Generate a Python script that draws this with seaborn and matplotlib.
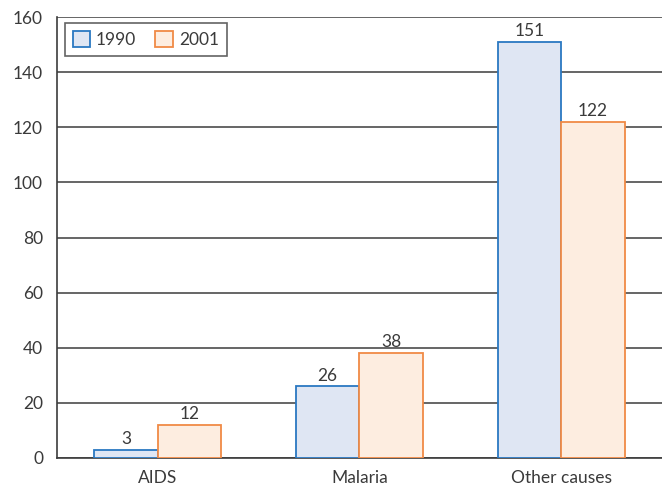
import matplotlib
matplotlib.use("Agg")
import matplotlib.pyplot as plt
import seaborn as sns
import pandas as pd
from matplotlib.patches import Patch

causes = ["AIDS", "Malaria", "Other causes"]
years = ["1990", "2001"]
values_1990 = [3, 26, 151]
values_2001 = [12, 38, 122]
y_ticks = [0, 20, 40, 60, 80, 100, 120, 140, 160]

df = pd.DataFrame({
    "cause": causes * 2,
    "year": [years[0]] * 3 + [years[1]] * 3,
    "value": values_1990 + values_2001,
})

sns.set_theme(style="white")
plt.rcParams["font.family"] = ["Lato", "DejaVu Sans"]
text_color = "#3a3a3a"
line_color = "#3c3c3c"
fs = 12.5

fills = {"1990": "#dfe6f3", "2001": "#fdede0"}
edges = {"1990": "#2a78c2", "2001": "#f08a45"}

fig = plt.figure(figsize=(6.62, 4.88), dpi=100)
ax = fig.add_axes([0.086, 0.0615, 0.914, 0.9035])

sns.barplot(data=df, x="cause", y="value", hue="year", order=causes,
            hue_order=years, palette=fills, saturation=1, width=0.63, ax=ax,
            legend=False, zorder=3)

for container, yr in zip(ax.containers, years):
    for bar in container:
        bar.set_edgecolor(edges[yr])
        bar.set_linewidth(1.3)
    ax.bar_label(container, labels=[str(int(b.get_height())) for b in container],
                 padding=2, fontsize=fs, color=text_color)

ax.set_xlim(-0.5, 2.5)
ax.set_ylim(0, 160)
ax.set_yticks(y_ticks)
ax.set_yticklabels([str(t) for t in y_ticks], fontsize=fs, color=text_color)
ax.set_xticks(range(len(causes)))
ax.set_xticklabels(causes, fontsize=fs, color=text_color)
ax.set_xticks([-0.5, 0.5, 1.5], minor=True)
ax.tick_params(axis="x", which="major", length=0, pad=9)
ax.tick_params(axis="x", which="minor", length=7, width=1.2, color=line_color, direction="out")
ax.tick_params(axis="y", length=7, width=1.2, color=line_color, direction="out", pad=3)
ax.set_xlabel("")
ax.set_ylabel("")

ax.yaxis.grid(True, color=line_color, linewidth=1.1, zorder=0)
ax.set_axisbelow(True)
for side in ["top", "right"]:
    ax.spines[side].set_visible(False)
ax.spines["left"].set_color(line_color)
ax.spines["left"].set_linewidth(1.2)
ax.spines["bottom"].set_color(line_color)
ax.spines["bottom"].set_linewidth(1.2)

handles = [Patch(facecolor=fills[y], edgecolor=edges[y], linewidth=1.3) for y in years]
leg = ax.legend(handles, years, loc="upper left", ncol=2, fontsize=fs,
                frameon=True, fancybox=False, handlelength=1.0, handleheight=1.0,
                handletextpad=0.35, columnspacing=1.1, borderpad=0.45,
                borderaxespad=0, bbox_to_anchor=(0.013, 0.986))
leg.get_frame().set_edgecolor(line_color)
leg.get_frame().set_linewidth(1.2)
for t in leg.get_texts():
    t.set_color(text_color)

fig.savefig("out.png", dpi=100)
